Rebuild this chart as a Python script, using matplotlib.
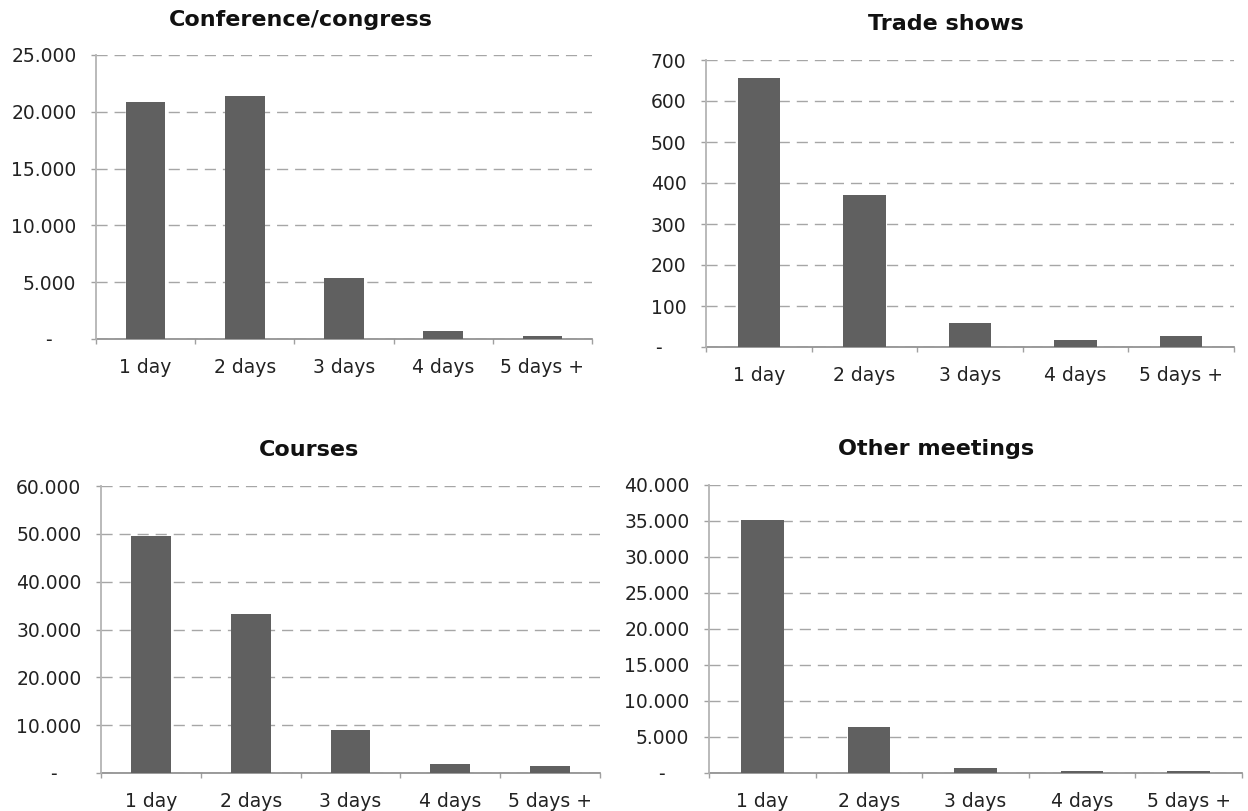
import matplotlib
matplotlib.use("Agg")
import matplotlib.pyplot as plt
from matplotlib.ticker import FuncFormatter, FixedLocator

plt.rcParams['font.family'] = ['DejaVu Sans']

days = ['1 day', '2 days', '3 days', '4 days', '5 days +']

conference = [20900, 21350, 5400, 730, 300]
trade_shows = [655, 371, 58, 16, 26]
courses = [49600, 33250, 8950, 1820, 1400]
other_meetings = [35150, 6400, 700, 220, 210]

titles = ['Conference/congress', 'Trade shows', 'Courses', 'Other meetings']
series = [conference, trade_shows, courses, other_meetings]
y_max = [25000, 700, 60000, 40000]
y_step = [5000, 100, 10000, 5000]

W, H = 1248, 811
# left, right, top, bottom of each plot area in pixels
boxes = [(96, 592, 55, 339), (706, 1234, 60, 347),
         (101, 600, 486, 773), (709, 1242, 485, 773)]
title_x = [0.413, 0.455, 0.417, 0.426]

BAR = '#606060'
GRID = '#a6a6a6'
SPINE = '#a0a0a0'


def fmt(v, pos):
    if v == 0:
        return '-\u2007\u2007'
    return f'{v:,.0f}'.replace(',', '.')


fig = plt.figure(figsize=(W / 100, H / 100), dpi=100)

for title, vals, top, step, (l, r, t, b), tx in zip(titles, series, y_max, y_step, boxes, title_x):
    ax = fig.add_axes([l / W, 1 - b / H, (r - l) / W, (b - t) / H])
    x = range(len(days))
    ax.bar(x, vals, width=0.4, color=BAR, zorder=3)

    ax.set_xlim(-0.5, len(days) - 0.5)
    ax.set_ylim(0, top)
    ax.set_yticks(range(0, top + 1, step))
    ax.yaxis.set_major_formatter(FuncFormatter(fmt))
    ax.set_xticks(list(x))
    ax.set_xticklabels(days)
    ax.xaxis.set_minor_locator(FixedLocator([i - 0.5 for i in range(len(days) + 1)]))

    ax.tick_params(axis='x', which='major', length=0, pad=13.5, labelsize=13.5, colors='#222222')
    ax.tick_params(axis='x', which='minor', length=3.8, width=1, color=SPINE, direction='out')
    ax.tick_params(axis='y', length=3.6, width=1, color=SPINE, pad=10.5, labelsize=13.5,
                   labelcolor='#222222')

    ax.grid(axis='y', color=GRID, linestyle=(0, (8, 5)), linewidth=1, zorder=0)
    for side in ('top', 'right'):
        ax.spines[side].set_visible(False)
    ax.spines['left'].set_color('#b4b4b4')
    ax.spines['left'].set_linewidth(1.3)
    ax.spines['bottom'].set_color('#8a8a8a')
    ax.spines['bottom'].set_linewidth(1.2)
    ax.spines['bottom'].set_zorder(2)

    ax.text(tx, 1.125, title, transform=ax.transAxes, ha='center', va='center',
            fontsize=16, fontweight='bold', color='#111111')

fig.savefig('out.png', dpi=100)
